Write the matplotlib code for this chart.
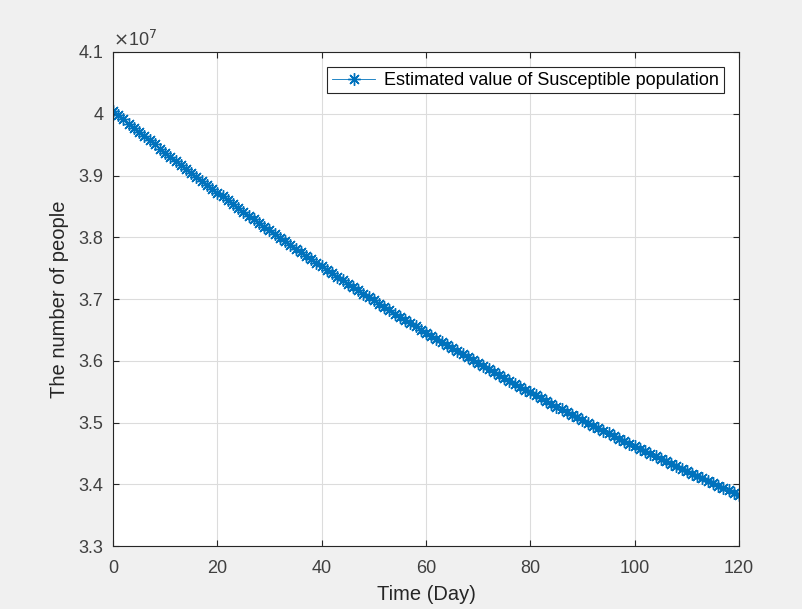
import matplotlib
matplotlib.use("Agg")
import matplotlib.pyplot as plt
import numpy as np

# days 0..120, susceptible population in units of 1e7
days = list(range(0, 121))
susceptible_1e7 = [
    4.0050, 3.9980, 3.9911, 3.9842, 3.9774, 3.9705, 3.9637, 3.9570, 3.9503, 3.9436,
    3.9370, 3.9303, 3.9238, 3.9172, 3.9107, 3.9042, 3.8978, 3.8914, 3.8850, 3.8787,
    3.8724, 3.8661, 3.8599, 3.8537, 3.8475, 3.8413, 3.8352, 3.8291, 3.8231, 3.8171,
    3.8111, 3.8051, 3.7992, 3.7933, 3.7875, 3.7816, 3.7758, 3.7701, 3.7643, 3.7586,
    3.7529, 3.7473, 3.7417, 3.7361, 3.7305, 3.7250, 3.7195, 3.7140, 3.7086, 3.7032,
    3.6978, 3.6924, 3.6871, 3.6818, 3.6765, 3.6712, 3.6660, 3.6608, 3.6557, 3.6505,
    3.6454, 3.6403, 3.6353, 3.6302, 3.6252, 3.6202, 3.6153, 3.6103, 3.6054, 3.6006,
    3.5957, 3.5909, 3.5861, 3.5813, 3.5765, 3.5718, 3.5671, 3.5624, 3.5578, 3.5532,
    3.5486, 3.5440, 3.5394, 3.5349, 3.5304, 3.5259, 3.5214, 3.5170, 3.5126, 3.5082,
    3.5038, 3.4995, 3.4951, 3.4908, 3.4866, 3.4823, 3.4781, 3.4739, 3.4697, 3.4655,
    3.4613, 3.4572, 3.4531, 3.4490, 3.4450, 3.4409, 3.4369, 3.4329, 3.4289, 3.4250,
    3.4210, 3.4171, 3.4132, 3.4094, 3.4055, 3.4017, 3.3979, 3.3941, 3.3903, 3.3865,
    3.3828,
]
x_ticks = [0, 20, 40, 60, 80, 100, 120]
y_ticks = [3.3, 3.4, 3.5, 3.6, 3.7, 3.8, 3.9, 4.0, 4.1]
legend_label = 'Estimated value of Susceptible population'

plt.rcParams['font.family'] = ['Liberation Sans', 'DejaVu Sans']

fig = plt.figure(figsize=(8.03, 6.09), dpi=100)
fig.patch.set_facecolor('#f0f0f0')
ax = fig.add_axes([113 / 803, 1 - 546 / 609, 626 / 803, 494 / 609])
ax.set_facecolor('white')

# MATLAB-like asterisk marker
ax.plot(days, susceptible_1e7, '-', marker=(8, 2, 0), color='#0072BD',
        linewidth=0.6, markersize=9, markeredgewidth=1.0, label=legend_label)

ax.set_xlim(0, 120)
ax.set_ylim(3.3, 4.1)
ax.set_xticks(x_ticks)
ax.set_yticks(y_ticks)
ax.set_yticklabels(['%g' % v for v in y_ticks])
ax.grid(True, color='#dcdcdc', linewidth=0.8)
ax.set_axisbelow(True)
ax.tick_params(direction='in', length=4, width=0.8, colors='#262626',
               labelsize=13, top=True, right=True, labelcolor='#404040', pad=7)
ax.tick_params(axis='x', pad=10)
for s in ax.spines.values():
    s.set_color('#262626')
    s.set_linewidth(0.8)

ax.set_xlabel('Time (Day)', fontsize=14.5, color='#262626', labelpad=6)
ax.set_ylabel('The number of people', fontsize=14.5, color='#262626', labelpad=7)
ax.text(0.0, 1.004, r'$\times$10$^{7}$', transform=ax.transAxes, fontsize=13,
        color='#404040', ha='left', va='bottom')

leg = ax.legend(loc='upper right', numpoints=1, fontsize=13, fancybox=False,
                framealpha=1, edgecolor='#262626', borderpad=0.25,
                handlelength=2.4, handletextpad=0.5, borderaxespad=0.85)
leg.get_frame().set_linewidth(0.8)

fig.savefig('out.png', dpi=100, facecolor=fig.get_facecolor())
